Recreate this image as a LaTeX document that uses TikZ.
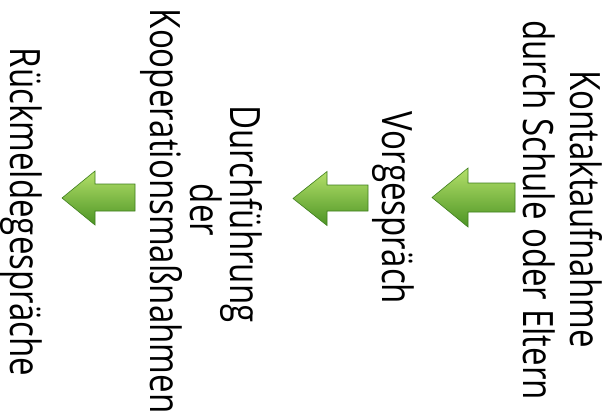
\documentclass[tikz,border=0pt]{standalone}
\usepackage{fontspec}
\setmainfont[FakeStretch=0.79]{Open Sans}
\definecolor{agreenlight}{HTML}{B4E06A}
\definecolor{agreenmid}{HTML}{76BC33}
\definecolor{agreendark}{HTML}{4C9424}
\definecolor{agreenline}{HTML}{3F7F1E}
\begin{document}
\begin{tikzpicture}[x=1bp,y=1bp,
  lbl/.style={rotate=-90, anchor=base, inner sep=0pt, font=\fontsize{42}{47}\selectfont, text=black},
  garrow/.style={draw=agreenline, line width=0.6bp, top color=agreenlight, middle color=agreenmid, bottom color=agreendark, line join=miter}]
\useasboundingbox (0,0) rectangle (612,-416);
\fill[white] (0,0) rectangle (612,-416);
% step 1
\node[lbl] (s1a) at (570,-209) {Kontaktaufnahme};
\node[lbl] (s1b) at (523,-210) {durch Schule oder Eltern};
% step 2
\node[lbl] (s2) at (382,-208) {Vorgespräch};
% step 3
\node[lbl] (s3a) at (230,-214) {Durchführung};
\node[lbl] (s3b) at (190,-210) {der};
\node[lbl] (s3c) at (150,-211) {Kooperationsmaßnahmen};
% step 4
\node[lbl] (s4) at (10,-212) {Rückmeldegespräche};
% arrows
\draw[garrow] (432,-197.5) -- (468,-168) -- (468,-183) -- (515,-183) -- (515,-212) -- (468,-212) -- (468,-227) -- cycle;
\draw[garrow] (293,-198.5) -- (327,-171.5) -- (327,-185) -- (368,-185) -- (368,-211) -- (327,-211) -- (327,-225.5) -- cycle;
\draw[garrow] (62,-198) -- (95,-171) -- (95,-184) -- (135,-184) -- (135,-211) -- (95,-211) -- (95,-225) -- cycle;
\end{tikzpicture}
\end{document}
